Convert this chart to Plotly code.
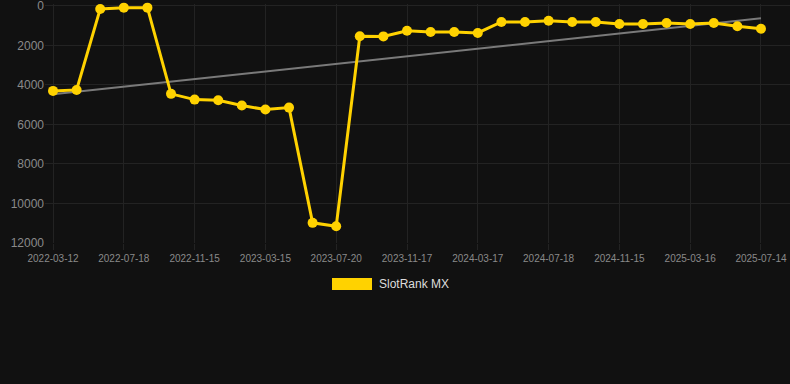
import plotly.graph_objects as go

dates = [
    "2022-03-12", "2022-04-24", "2022-06-05", "2022-07-18", "2022-08-27", "2022-10-06",
    "2022-11-15", "2022-12-25", "2023-02-03", "2023-03-15", "2023-04-27", "2023-06-08",
    "2023-07-20", "2023-08-29", "2023-10-08", "2023-11-17", "2023-12-27", "2024-02-06",
    "2024-03-17", "2024-04-27", "2024-06-07", "2024-07-18", "2024-08-27", "2024-10-06",
    "2024-11-15", "2024-12-25", "2025-02-04", "2025-03-16", "2025-04-25", "2025-06-04",
    "2025-07-14",
]
rank = [
    4300, 4250, 150, 85, 85, 4450,
    4740, 4770, 5040, 5245, 5145, 10980,
    11150, 1535, 1540, 1250, 1315, 1315,
    1365, 810, 810, 745, 810, 810,
    910, 910, 860, 910, 860, 1030,
    1150,
]
tick_labels = [
    "2022-03-12", "2022-07-18", "2022-11-15", "2023-03-15", "2023-07-20", "2023-11-17",
    "2024-03-17", "2024-07-18", "2024-11-15", "2025-03-16", "2025-07-14",
]
trend_x = ["2022-03-12", "2025-07-14"]
trend_y = [4470, 620]
y_ticks = [0, 2000, 4000, 6000, 8000, 10000, 12000]
y_tick_text = ["0", "2000", "4000", "6000", "8000", "10000", "12000"]
series_name = "SlotRank MX"

W, H = 790, 384
ML, MR, MT, MB = 45, 0, 4, 141
PW, PH = W - ML - MR, H - MT - MB

def px_x(p):
    return (p - ML) / PW

def px_y(p):
    return (H - MB - p) / PH

gold = "#FFD200"
grid = "#232323"

fig = go.Figure()
fig.add_trace(go.Scatter(
    x=trend_x, y=trend_y, mode="lines",
    line=dict(color="#7a7a7a", width=2), hoverinfo="skip", showlegend=False,
    cliponaxis=False,
))
fig.add_trace(go.Scatter(
    x=dates, y=rank, mode="lines+markers", name=series_name,
    line=dict(color=gold, width=3), marker=dict(color=gold, size=10),
    showlegend=False, cliponaxis=False,
))

fig.add_shape(type="rect", xref="paper", yref="paper",
              x0=px_x(332), x1=px_x(372), y0=px_y(290), y1=px_y(278),
              fillcolor=gold, line=dict(width=0))
fig.add_annotation(xref="paper", yref="paper", x=px_x(377), y=px_y(284),
                   xanchor="left", yanchor="middle", showarrow=False,
                   text=series_name, font=dict(color="#dddddd", size=12))

fig.update_layout(
    width=W, height=H,
    margin=dict(l=ML, r=MR, t=MT, b=MB),
    paper_bgcolor="#111111", plot_bgcolor="#111111",
    font=dict(family="Liberation Sans, Arial, sans-serif", color="#8a8a8a"),
    showlegend=False,
)
fig.update_xaxes(
    type="category", categoryorder="array", categoryarray=dates,
    range=[-0.34, 31.23],
    tickmode="array", tickvals=tick_labels, ticktext=tick_labels,
    showgrid=True, gridcolor=grid, gridwidth=1,
    ticks="outside", ticklen=6, tickcolor=grid,
    tickfont=dict(size=10, color="#8a8a8a"),
    zeroline=False, showline=False, ticklabeloverflow="allow",
)
fig.update_yaxes(
    range=[12000, -100], tickmode="array", tickvals=y_ticks, ticktext=y_tick_text,
    showgrid=True, gridcolor=grid, gridwidth=1,
    tickfont=dict(size=12, color="#8a8a8a"),
    zeroline=False, showline=False, ticks="", ticklabeloverflow="allow",
)

fig.write_html(
    "out.html",
    config={"displayModeBar": False},
    post_script="document.body.style.margin='0';document.body.style.background='#111111';",
)
